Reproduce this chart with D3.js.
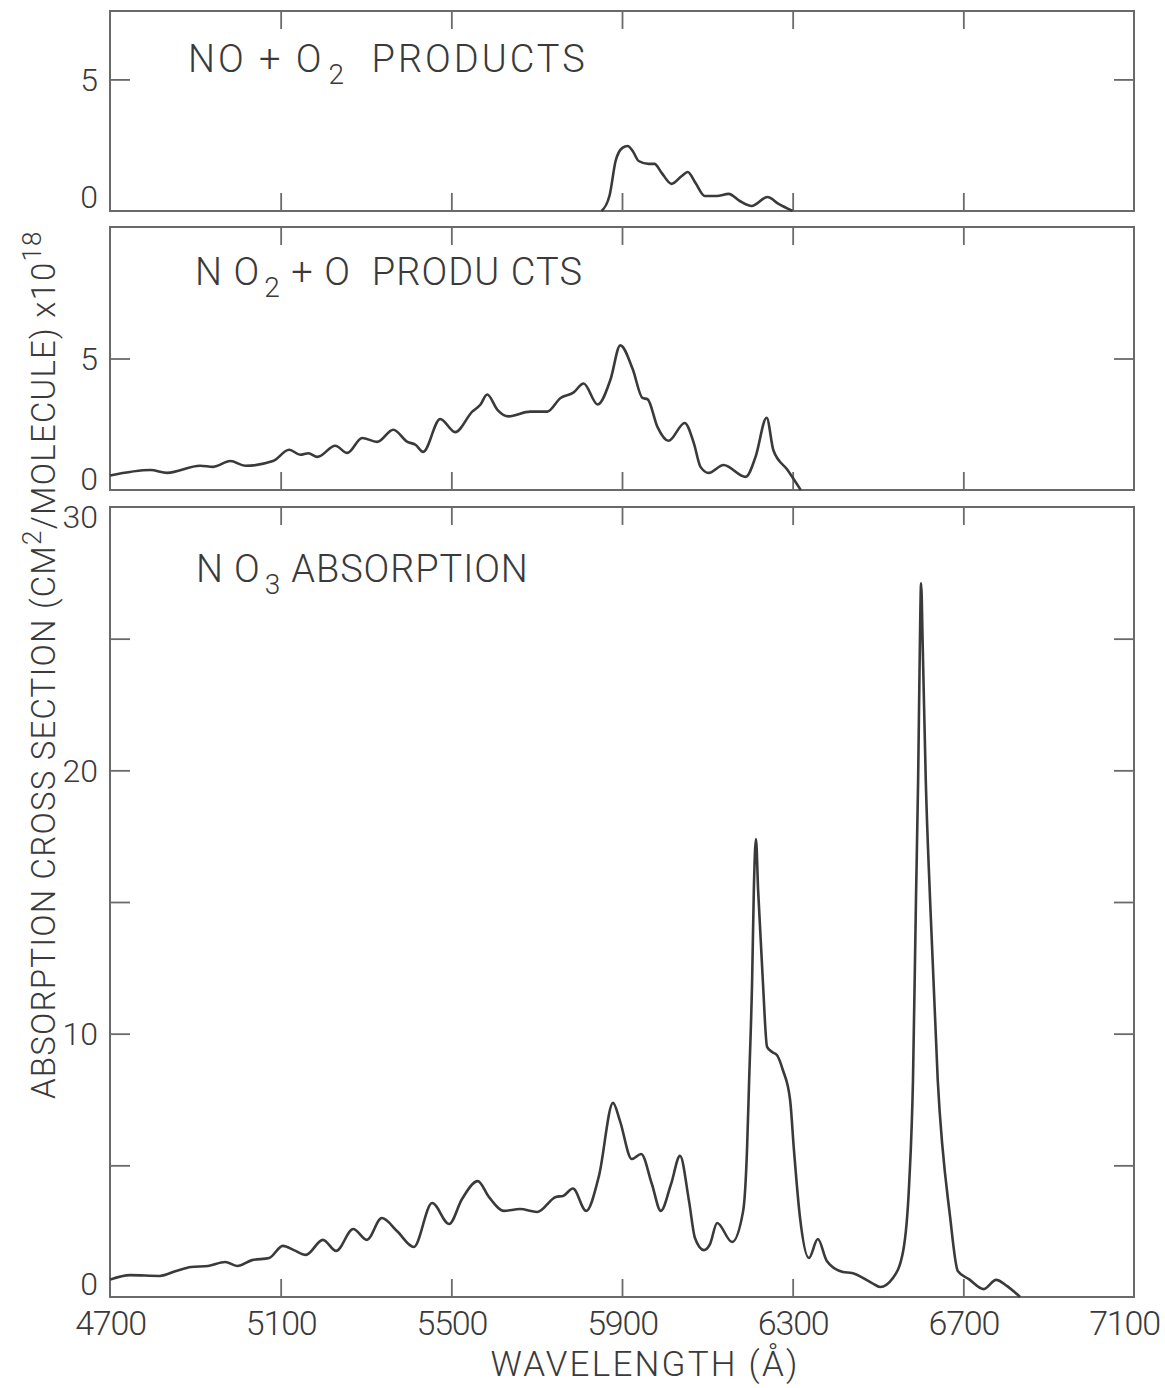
<!DOCTYPE html>
<html>
<head>
<meta charset="utf-8">
<script src="https://cdn.jsdelivr.net/npm/d3@7"></script>
<style>
  body { margin: 0; background: #fff; }
  text { font-family: Roboto, "DejaVu Sans", sans-serif; font-weight: 300; fill: #3a3a3a; }
</style>
</head>
<body>
<div id="chart"></div>
<script>
// wavelength axis, Angstrom
const waveTicks = [4700, 5100, 5500, 5900, 6300, 6700, 7100];

// NO + O2 products
const noO2Wave = [5852, 5871, 5885, 5901, 5913, 5925, 5939, 5962, 5976, 5993, 6016, 6040, 6054, 6072, 6094, 6122, 6150, 6176, 6204, 6241, 6267, 6300];
const noO2Sigma = [0, 0.6, 1.9, 2.4, 2.47, 2.28, 1.9, 1.79, 1.79, 1.45, 1.03, 1.33, 1.48, 1.07, 0.57, 0.57, 0.65, 0.38, 0.19, 0.53, 0.27, 0];

// NO2 + O products
const no2OWave = [4700, 4795, 4834, 4911, 4942, 4982, 5017, 5082, 5120, 5146, 5165, 5186, 5228, 5256, 5291, 5326, 5364, 5397, 5416, 5434, 5474, 5509, 5549, 5568, 5584, 5608, 5634, 5685, 5725, 5756, 5786, 5810, 5843, 5873, 5896, 5925, 5948, 5960, 5983, 6009, 6047, 6068, 6084, 6103, 6138, 6190, 6213, 6239, 6255, 6288, 6319];
const no2OSigma = [0.55, 0.76, 0.65, 0.92, 0.88, 1.1, 0.92, 1.1, 1.53, 1.34, 1.4, 1.26, 1.68, 1.41, 1.98, 1.83, 2.29, 1.83, 1.72, 1.45, 2.7, 2.2, 2.98, 3.24, 3.63, 3.05, 2.8, 2.98, 2.98, 3.5, 3.7, 4.05, 3.25, 4.2, 5.5, 4.6, 3.5, 3.45, 2.4, 1.87, 2.55, 1.8, 0.88, 0.65, 0.95, 0.5, 1.26, 2.75, 1.5, 0.76, 0];

// NO3 absorption
const no3Wave = [4700, 4747, 4817, 4855, 4890, 4930, 4970, 4998, 5033, 5073, 5105, 5131, 5159, 5199, 5230, 5270, 5302, 5337, 5373, 5412, 5455, 5495, 5525, 5562, 5588, 5623, 5661, 5701, 5745, 5762, 5785, 5816, 5846, 5879, 5895, 5923, 5945, 5970, 5991, 6015, 6036, 6057, 6071, 6092, 6106, 6123, 6158, 6184, 6193, 6198, 6205, 6209, 6214, 6219, 6230, 6240, 6252, 6263, 6277, 6294, 6303, 6317, 6338, 6359, 6380, 6418, 6439, 6486, 6505, 6535, 6559, 6573, 6582, 6589, 6594, 6598, 6601, 6605, 6612, 6622, 6640, 6669, 6687, 6713, 6748, 6777, 6802, 6833];
const no3Sigma = [0.66, 0.83, 0.8, 0.99, 1.14, 1.18, 1.33, 1.18, 1.4, 1.48, 1.94, 1.78, 1.6, 2.17, 1.75, 2.58, 2.17, 3.0, 2.5, 1.9, 3.57, 2.77, 3.72, 4.4, 3.8, 3.27, 3.34, 3.23, 3.8, 3.84, 4.12, 3.27, 4.6, 7.37, 6.7, 5.24, 5.43, 4.29, 3.27, 4.29, 5.36, 3.65, 2.24, 1.78, 2.0, 2.81, 2.09, 3.27, 5.58, 8.24, 12.04, 15.46, 17.39, 15.46, 12.04, 9.5, 9.3, 9.19, 8.62, 7.48, 5.58, 3.04, 1.48, 2.2, 1.37, 0.95, 0.91, 0.53, 0.38, 0.72, 1.75, 4.29, 8.24, 15.1, 19.6, 24.6, 27.1, 24.6, 19.6, 15.1, 8.24, 3.04, 0.99, 0.68, 0.3, 0.65, 0.42, 0];

const W = 1165, H = 1388;
const left = 110, right = 1134;
const ink = "#3a3a3a", frameInk = "#6a6a6a";

const panels = [
  { title: ["NO + O", "2", "  PRODUCTS"], wave: noO2Wave, sigma: noO2Sigma,
    top: 11, bottom: 211, yMax: 7.6, yTicks: [0, 5], yLabels: [0, 5],
    tx: 188, ty: 72, spacing: 3.0, zeroShift: -15 },
  { title: ["N O", "2", " + O  PRODU CTS"], wave: no2OWave, sigma: no2OSigma,
    top: 227, bottom: 490, yMax: 10, yTicks: [0, 5], yLabels: [0, 5],
    tx: 195, ty: 285, spacing: 1.1, zeroShift: -12 },
  { title: ["N O", "3", " ABSORPTION"], wave: no3Wave, sigma: no3Sigma,
    top: 507, bottom: 1297, yMax: 30, yTicks: [0, 5, 10, 15, 20, 25, 30], yLabels: [0, 10, 20, 30],
    tx: 196, ty: 582, spacing: 0.9, zeroShift: -14 }
];

const svg = d3.select("#chart").append("svg")
  .attr("width", W)
  .attr("height", H)
  .attr("viewBox", `0 0 ${W} ${H}`);

const x = d3.scaleLinear().domain([4700, 7100]).range([left, right]);
const innerTicks = waveTicks.slice(1, -1);

panels.forEach((p, i) => {
  const y = d3.scaleLinear().domain([0, p.yMax]).range([p.bottom, p.top]);
  const g = svg.append("g");

  // inward ticks on all four sides
  const yInner = p.yTicks.filter(v => v > 0 && v < p.yMax);
  const axes = [
    [d3.axisBottom(x).tickValues(innerTicks).tickSize(-18), `translate(0,${p.bottom})`],
    [d3.axisTop(x).tickValues(innerTicks).tickSize(-18), `translate(0,${p.top})`],
    [d3.axisLeft(y).tickValues(yInner).tickSize(-20), `translate(${left},0)`],
    [d3.axisRight(y).tickValues(yInner).tickSize(-20), `translate(${right},0)`]
  ];
  axes.forEach(([ax, tr]) => {
    const a = g.append("g").attr("transform", tr).call(ax.tickFormat(""));
    a.select(".domain").remove();
    a.selectAll(".tick line").attr("stroke", frameInk).attr("stroke-width", 1.8);
  });

  g.append("rect")
    .attr("x", left).attr("y", p.top)
    .attr("width", right - left).attr("height", p.bottom - p.top)
    .attr("fill", "none").attr("stroke", frameInk).attr("stroke-width", 2);

  // y tick labels
  const yl = g.append("g").attr("transform", `translate(${left},0)`)
    .call(d3.axisLeft(y).tickValues(p.yLabels).tickSize(0).tickPadding(12).tickFormat(d3.format("d")));
  yl.select(".domain").remove();
  yl.selectAll("text")
    .attr("font-size", 32)
    .attr("fill", ink)
    .attr("dy", "0.35em")
    .attr("y", d => d === 0 ? p.zeroShift : (d === p.yMax ? 9 : 0))
    .style("font-family", "Roboto, sans-serif").style("font-weight", 300);

  // curve
  const line = d3.line()
    .x(d => x(d[0]))
    .y(d => y(d[1]))
    .curve(d3.curveMonotoneX);
  g.append("path")
    .datum(p.wave.map((w, k) => [w, p.sigma[k]]))
    .attr("d", line)
    .attr("fill", "none")
    .attr("stroke", ink)
    .attr("stroke-width", 2.6)
    .attr("stroke-linejoin", "round");

  // panel title with subscript
  const t = g.append("text")
    .attr("x", p.tx).attr("y", p.ty)
    .attr("font-size", 38)
    .attr("letter-spacing", p.spacing)
    .style("white-space", "pre");
  t.append("tspan").text(p.title[0]);
  t.append("tspan").attr("font-size", 28).attr("dx", 4).attr("dy", 12).text(p.title[1]);
  t.append("tspan").attr("dy", -12).text(p.title[2]);
});

// wavelength labels under the bottom panel
const xl = svg.append("g").attr("transform", `translate(0,${panels[2].bottom})`)
  .call(d3.axisBottom(x).tickValues(waveTicks).tickSize(0).tickPadding(14).tickFormat(d3.format("d")));
xl.select(".domain").remove();
xl.selectAll("text")
  .attr("font-size", 34)
  .attr("letter-spacing", -1.2)
  .attr("fill", ink)
  .attr("dx", d => d === 7100 ? -10 : 0)
  .style("font-family", "Roboto, sans-serif").style("font-weight", 300);

// axis titles
svg.append("text")
  .attr("x", 645).attr("y", 1376)
  .attr("text-anchor", "middle")
  .attr("font-size", 35)
  .attr("letter-spacing", 2.2)
  .text("WAVELENGTH (Å)");

const yt = svg.append("text")
  .attr("transform", "translate(55,1099) rotate(-90)")
  .attr("font-size", 33)
  .attr("letter-spacing", 1.2);
yt.append("tspan").text("ABSORPTION CROSS SECTION (CM");
yt.append("tspan").attr("font-size", 26).attr("dy", -14).text("2");
yt.append("tspan").attr("dy", 14).text("/MOLECULE) x10");
yt.append("tspan").attr("font-size", 26).attr("dy", -14).text("18");
</script>
</body>
</html>
